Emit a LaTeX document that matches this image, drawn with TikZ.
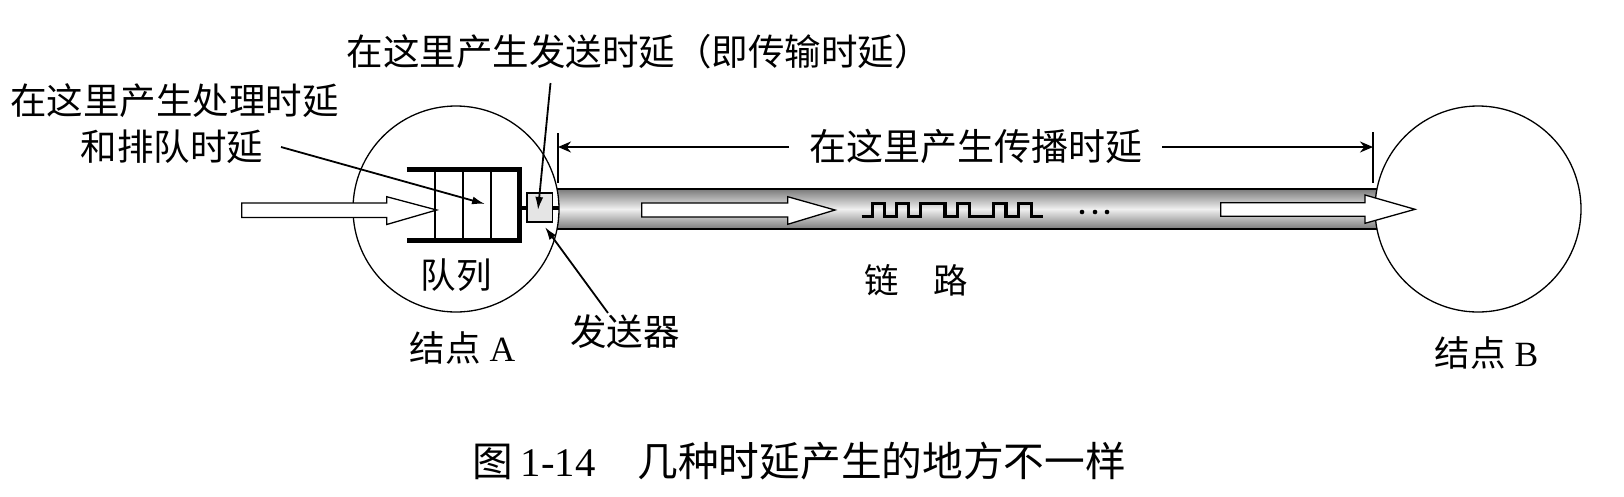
\documentclass[tikz,border=0pt]{standalone}
\usepackage{fontspec}
\setmainfont{Liberation Serif}
\newfontfamily\cjk{Noto Sans CJK SC}
\usetikzlibrary{arrows.meta}
\begin{document}
\begin{tikzpicture}[x=1pt,y=-1pt,
  lbl/.style={inner sep=0pt, font=\fontsize{36.5}{40}\selectfont\cjk, anchor=base},
  lead/.style={line width=1.8pt, -{Latex[length=13pt,width=8pt]}},
  dim/.style={line width=1.8pt, -{Stealth[length=13pt,width=11pt]}},
  tickline/.style={line width=1.3pt},
  nodecircle/.style={circle, draw, line width=1.3pt, fill=white, minimum size=206pt, inner sep=0pt},
  hollow/.style={draw, fill=white, line width=1.3pt, line join=miter},
  qbar/.style={line width=5pt, line join=miter},
  qcell/.style={line width=1.2pt},
  wave/.style={line width=3.5pt, line join=miter},
  ]
\path[use as bounding box, fill=white] (0,0) rectangle (1624,496);

% link (tube)
\shade[top color=black!52, bottom color=black!52, middle color=black!6] (540,189) rectangle (1400,229);
\draw[line width=2.5pt] (540,189) -- (1400,189) (540,229) -- (1400,229);

% nodes A and B
\node[nodecircle] (A) at (456,209) {};
\node[nodecircle] (B) at (1478,209) {};

% incoming hollow arrow
\draw[hollow] (241.7,203) -- (386.7,203) -- (386.7,196.7) -- (436.7,210) -- (386.7,224.5) -- (386.7,217.5) -- (241.7,217.5) -- cycle;

% queue
\draw[qcell] (435,169.2) -- (435,240.8) (463,169.2) -- (463,240.8) (491,169.2) -- (491,240.8);
\draw[qbar] (406.7,169.2) -- (519.7,169.2) -- (519.7,240.8) -- (406.7,240.8);

% transmitter
\draw[line width=4pt] (519.7,207.5) -- (559,207.5);
\node[draw, fill=black!10, line width=1.7pt, minimum width=25.5pt, minimum height=29pt, inner sep=0pt] (tx) at (539.8,207.5) {};

% hollow arrows in the link
\draw[hollow] (641.7,203) -- (787.7,203) -- (787.7,196.7) -- (835,210) -- (787.7,224.3) -- (787.7,217) -- (641.7,217) -- cycle;
\draw[hollow] (1220.7,202.7) -- (1365,202.7) -- (1365,195) -- (1415,209.3) -- (1365,223.3) -- (1365,216.3) -- (1220.7,216.3) -- cycle;

% bit stream
\draw[wave] (861.7,216.7) -- (872.3,216.7) -- (872.3,203.3) -- (884.3,203.3) -- (884.3,216.7) -- (896.7,216.7) -- (896.7,203.3) -- (908.3,203.3) -- (908.3,216.7) -- (920.7,216.7) -- (920.7,203.3) -- (945,203.3) -- (945,216.7) -- (957.3,216.7) -- (957.3,203.3) -- (969.3,203.3) -- (969.3,216.7) -- (993.3,216.7) -- (993.3,203.3) -- (1006,203.3) -- (1006,216.7) -- (1018.3,216.7) -- (1018.3,203.3) -- (1031.7,203.3) -- (1031.7,216.7) -- (1043.3,216.7);
\fill (1082,212) circle (2.3pt) (1095,212) circle (2.3pt) (1107,212) circle (2.3pt);

% propagation delay dimension
\coordinate (dl) at (558,147);
\coordinate (dr) at (1373,147);
\draw[tickline] (558,133) -- (558,183);
\draw[tickline] (1373,132) -- (1373,183);
\node[lbl, anchor=base west, inner xsep=20pt, font=\fontsize{37}{40}\selectfont\cjk] (prop) at (789,160) {在这里产生传播时延};
\draw[dim] (prop.west |- dl) -- (dl);
\draw[dim] (prop.east |- dr) -- (dr);

% labels
\node[lbl] (proc1) at (174.5,114) {在这里产生处理时延};
\node[lbl] (proc2) at (172,160) {和排队时延};
\node[lbl, anchor=base west] (send) at (346.5,65.5) {在这里产生发送时延（即传输时延）};
\node[lbl, font=\fontsize{35.5}{40}\selectfont\cjk] (queue) at (456,288.5) {队列};
\node[lbl] (txl) at (625,345.6) {发送器};
\node[lbl, font=\fontsize{34.5}{40}\selectfont\cjk] (link) at (916.5,293) {链　路};
\node[lbl, font=\fontsize{35.5}{40}\selectfont] (la) at (462.5,361.5) {{\cjk 结点} A};
\node[lbl, font=\fontsize{35.5}{40}\selectfont] (lb) at (1486.5,366) {{\cjk 结点} B};

% leaders
\coordinate (p1s) at (281,147);
\coordinate (p1e) at (485,204);
\draw[lead] (p1s) -- (p1e);
\coordinate (s1s) at (550.5,83);
\coordinate (s1e) at (538,210);
\draw[lead] (s1s) -- (s1e);
\coordinate (t1s) at (608,313);
\coordinate (t1e) at (545,227);
\draw[lead] (t1s) -- (t1e);

% caption
\node[anchor=base west, inner sep=0pt, font=\fontsize{40.7}{46}\selectfont] (cap) at (472,476) {{\cjk 图}\hspace{8pt}1-14\hspace{42pt}{\cjk 几种时延产生的地方不一样}};
\end{tikzpicture}
\end{document}
